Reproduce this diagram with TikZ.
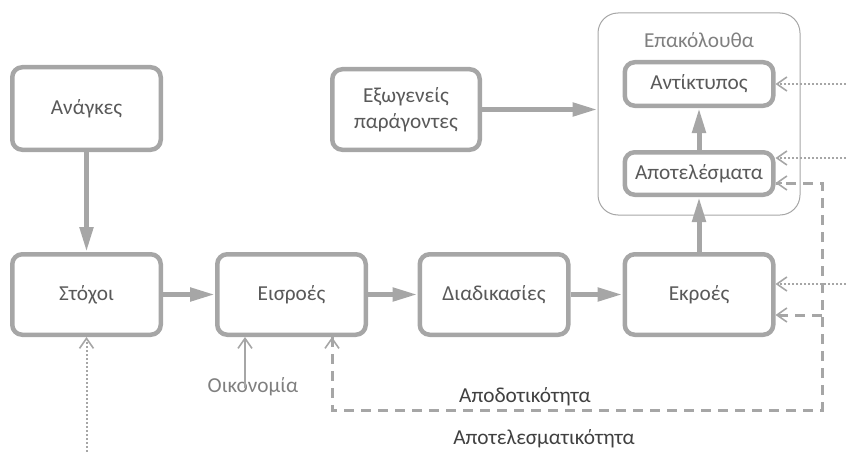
\documentclass[tikz,border=0pt]{standalone}
\usepackage{fontspec}
\setmainfont{Carlito}
\usetikzlibrary{arrows.meta,calc}
\definecolor{bx}{HTML}{A6A6A6}
\definecolor{tx}{HTML}{595959}
\definecolor{tl}{HTML}{7F7F7F}
\definecolor{td}{HTML}{404040}
\begin{document}
\begin{tikzpicture}[x=1pt,y=-1pt,
  font=\fontsize{21.3}{26}\selectfont,
  box/.style={draw=bx, line width=4.5pt, rounded corners=10pt, fill=white, text=tx,
    inner sep=0pt, align=center, minimum width=148.5pt, minimum height=80.5pt},
  container/.style={draw=bx, line width=1pt, rounded corners=20pt, minimum width=202pt, minimum height=202pt, inner sep=0pt},
  main/.style={draw=bx, line width=5pt, -{Triangle[length=25pt,width=13pt]}},
  dotarrow/.style={draw=bx, line width=2pt, dash pattern=on 2pt off 2pt, -{Straight Barb[length=10pt,width=14pt,line width=1.6pt]}},
  dasharrow/.style={draw=bx, line width=3pt, dash pattern=on 10pt off 7pt},
  thinarrow/.style={draw=bx, line width=1.5pt, -{Straight Barb[length=10pt,width=14pt,line width=1.6pt]}},
  barb/.style={-{Straight Barb[length=10pt,width=14pt,line width=1.6pt]}}
]
\useasboundingbox (0,0) rectangle (846,452);

% container
\node[container] (cont) at (699,114) {};
\node[text=tl] (contlabel) at (699,40) {Επακόλουθα};

% boxes
\node[box, minimum height=82.5pt] (anag) at (86.5,108.5) {Ανάγκες};
\node[box] (stox) at (86.5,294.5) {Στόχοι};
\node[box] (eis) at (291.5,294.5) {Εισροές};
\node[box] (diad) at (494,294.5) {Διαδικασίες};
\node[box] (ekr) at (699,294.5) {Εκροές};
\node[box, minimum width=147.5pt, minimum height=80.5pt] (exo) at (406,109.5) {Εξωγενείς\\παράγοντες};
\node[box, minimum height=43.5pt] (ant) at (699,84) {Αντίκτυπος};
\node[box, minimum height=42.5pt] (apot) at (699,173.5) {Αποτελέσματα};

% main arrows
\draw[main] (anag) -- (stox);
\draw[main] (stox) -- (eis);
\draw[main] (eis) -- (diad);
\draw[main] (diad) -- (ekr);
\draw[main] (ekr) -- (apot);
\draw[main] (apot) -- (ant);
\draw[main] (exo.east) -- (exo.east -| cont.west);

% dotted arrows
\coordinate (s1) at (86.5,452);
\coordinate (r1) at (846,84);
\coordinate (r2) at (846,158);
\coordinate (r3) at (846,284);
\draw[dotarrow] (s1) -- (stox.south);
\draw[dotarrow] (r1) -- (r1 -| ant.east);
\draw[dotarrow] (r2) -- (r2 -| apot.east);
\draw[dotarrow] (r3) -- (r3 -| ekr.east);

% economy
\node[text=tl] (oik) at (253,387) {Οικονομία};
\coordinate (o1) at (245,388);
\draw[thinarrow] (o1) -- (o1 |- eis.south);

% dashed loop
\coordinate (d1) at (332,410);
\coordinate (d2) at (822,410);
\coordinate (d3) at (822,183);
\coordinate (d4) at (822,315);
\draw[dasharrow] (d1 |- eis.south) -- (d1) -- (d2) -- (d3) -- (d3 -| apot.east);
\draw[dasharrow] (d4) -- (d4 -| ekr.east);
\draw[draw=bx, barb, line width=1.6pt] ($(d1 |- eis.south)+(0,6)$) -- (d1 |- eis.south);
\draw[draw=bx, barb, line width=1.6pt] ($(d3 -| apot.east)+(6,0)$) -- (d3 -| apot.east);
\draw[draw=bx, barb, line width=1.6pt] ($(d4 -| ekr.east)+(6,0)$) -- (d4 -| ekr.east);

\node[text=td] (apod) at (525,397) {Αποδοτικότητα};
\node[text=td] (apotel) at (544,439) {Αποτελεσματικότητα};
\end{tikzpicture}
\end{document}
